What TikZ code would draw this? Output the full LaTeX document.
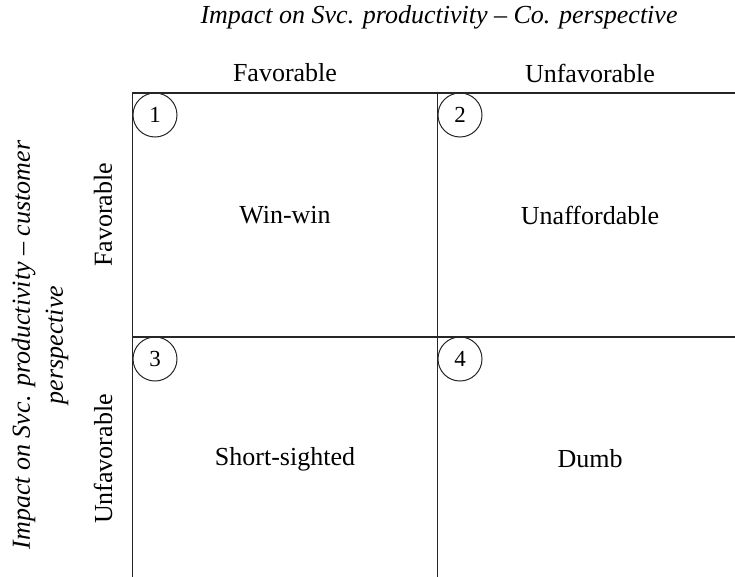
\documentclass[tikz,border=0pt]{standalone}
\usepackage{fontspec}
\setmainfont{Liberation Serif}
\usetikzlibrary{shapes, positioning}

\begin{document}
\begin{tikzpicture}[
x=1pt, y=1pt,
blank/.style={inner sep=0pt, font=\fontsize{26}{31}\selectfont},
axis/.style={blank, align=center, font=\fontsize{26}{33}\selectfont\itshape},
quad/.style={rectangle, text centered, draw=black!85, line width=1.6pt, outer sep=0pt,
minimum width=305pt, minimum height=244pt, font=\fontsize{26}{31}\selectfont},
quad-right/.style={quad, node distance=305pt},
quad-below/.style={quad, node distance=244pt},
num/.style={circle, draw=black!85, line width=1pt, minimum size=44pt, inner sep=0pt,
font=\fontsize{23}{26}\selectfont}
]

\useasboundingbox (0,0) rectangle (735,-576);
\clip (0,0) rectangle (735,-576);

\node [quad] (win-win) at (285,-215) {Win-win};
\node [quad-right, right of=win-win] (unaffordable) {Unaffordable};
\node [quad-below, below of=win-win] (short-sighted) {Short-sighted};
\node [quad-below, below of=unaffordable] (dumb) {Dumb};

\node [num] (num-1) at ([shift={(22.5,-22)}]win-win.north west) {1};
\node [num] (num-2) at ([shift={(22.5,-22)}]unaffordable.north west) {2};
\node [num] (num-3) at ([shift={(22.5,-22)}]short-sighted.north west) {3};
\node [num] (num-4) at ([shift={(22.5,-22)}]dumb.north west) {4};

\node [blank, above of=win-win, node distance=142pt] (co-fav) {Favorable};
\node [blank, above of=unaffordable, node distance=142pt] (co-unfav) {Unfavorable};
\node [blank, rotate=90] (cust-fav) at ([xshift=-182pt]win-win.center) {Favorable};
\node [blank, rotate=90] (cust-unfav) at ([xshift=-182pt]short-sighted.center) {Unfavorable};

\node [axis] (co-axis) at (439,-17) {Impact on Svc. productivity – Co. perspective};
\node [axis, rotate=90] (cust-axis) at (40,-345) {Impact on Svc. productivity – customer\\perspective};

\end{tikzpicture}
\end{document}
